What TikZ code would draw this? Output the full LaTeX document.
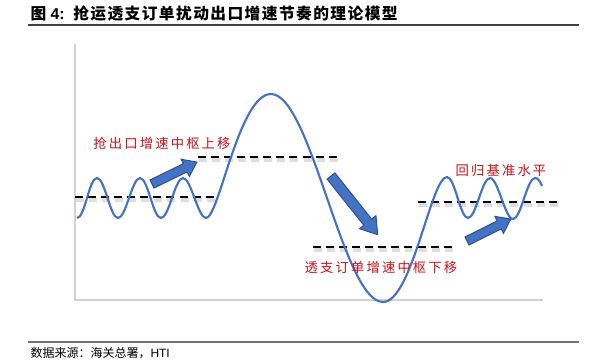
\documentclass[tikz,border=0pt]{standalone}
\usepackage{fontspec}
\setmainfont{Liberation Sans}
\newfontfamily\cjk{Noto Sans CJK SC}
\newfontfamily\cjktitle[LetterSpace=9]{Noto Sans CJK SC}
\newfontfamily\cjklbl[LetterSpace=16]{Noto Sans CJK SC}

\definecolor{waveblue}{RGB}{68,114,196}
\definecolor{arrowedge}{RGB}{47,82,143}
\definecolor{lblred}{RGB}{200,16,24}

\tikzset{every picture/.style={line width=0.75pt}}
\tikzset{
  wave/.style={draw=waveblue, line width=1.6pt},
  centerline/.style={draw=black, line width=1.5pt, dash pattern={on 6pt off 3.8pt}},
  centershade/.style={draw=black!13, line width=3pt, dash pattern={on 6pt off 3.8pt}},
  blockarrow/.style={fill=waveblue, draw=arrowedge, line width=0.75pt},
  axisline/.style={draw=black!18, line width=1.1pt},
  lbl/.style={inner sep=0.75pt, text=lblred, font=\cjklbl\fontsize{10}{12}\selectfont},
}

\begin{document}
\begin{tikzpicture}[x=0.75pt,y=0.75pt,yscale=-1,xscale=1]
        \useasboundingbox (0,0) rectangle (591,361);

        %Straight Lines [id:title rule]
        \draw [draw=black!75, line width=0.8pt]  (28,25) -- (579,25) ;
        %Straight Lines [id:source rule]
        \draw [draw=black!55, line width=0.8pt]  (28,342) -- (579,342) ;

        %Shape: Axis 2D [id:axes]
        \draw [axisline]  (75,44) -- (75,300) -- (543,300) ;

        %Straight Lines [id:center shadows]
        \draw [centershade]  (76,199.5) -- (215,199.5) ;
        \draw [centershade]  (199,159.5) -- (339,159.5) ;
        \draw [centershade]  (314,249.5) -- (454,249.5) ;
        \draw [centershade]  (419,204.5) -- (559,204.5) ;

        %Straight Lines [id:center lines]
        \draw [centerline]  (75,197) -- (214,197) ;
        \draw [centerline]  (198,157) -- (338,157) ;
        \draw [centerline]  (313,247) -- (453,247) ;
        \draw [centerline]  (418,202) -- (558,202) ;

        %Curve Lines [id:wave]
        \draw [wave]  (77,218) .. controls (85,218) and (89,178) .. (97,178)
          .. controls (105,178) and (110,218) .. (118,218)
          .. controls (126,218) and (132,178) .. (140,178)
          .. controls (148,178) and (153,218) .. (161,218)
          .. controls (169,218) and (175,178) .. (183,178)
          .. controls (191,178) and (198,218) .. (206,218)
          .. controls (219,218) and (239,94) .. (271,94)
          .. controls (311,94) and (343,302) .. (383,302)
          .. controls (412,302) and (431,177) .. (447,177)
          .. controls (455,177) and (460,218) .. (468,218)
          .. controls (476,218) and (482,178) .. (490,178)
          .. controls (498,178) and (505,219) .. (513,219)
          .. controls (521,219) and (527,178) .. (535,178)
          .. controls (538,178) and (540,181) .. (542,186) ;

        %Shape: Right Arrow [id:arrow up]
        \draw [blockarrow, shift={(152,184)}, rotate=-26]  (0,-4.5) -- (37,-4.5) -- (37,-9.5) -- (50,0) -- (37,9.5) -- (37,4.5) -- (0,4.5) -- cycle ;
        %Shape: Right Arrow [id:arrow down]
        \draw [blockarrow, shift={(331,176)}, rotate=51.5]  (0,-5) -- (59,-5) -- (59,-10.5) -- (75,0) -- (59,10.5) -- (59,5) -- (0,5) -- cycle ;
        %Shape: Right Arrow [id:arrow back]
        \draw [blockarrow, shift={(467,241)}, rotate=-26.6]  (0,-4.5) -- (36,-4.5) -- (36,-9.5) -- (49,0) -- (36,9.5) -- (36,4.5) -- (0,4.5) -- cycle ;

        % Text Node
        \draw (29,14) node (title) [anchor=west][inner sep=0.75pt]  {\fontsize{11.8}{14}\selectfont\bfseries{\cjktitle 图} 4:\hspace{6.5pt}{\cjktitle 抢运透支订单扰动出口增速节奏的理论模型}};
        % Text Node
        \draw (162,143) node (lblup) [lbl]  {抢出口增速中枢上移};
        % Text Node
        \draw (381,267) node (lbldown) [lbl]  {透支订单增速中枢下移};
        % Text Node
        \draw (501,170) node (lblback) [lbl]  {回归基准水平};
        % Text Node
        \draw (29,353) node (source) [anchor=west][inner sep=0.75pt]  {\fontsize{9}{11}\selectfont{\cjk 数据来源：海关总署，}HTI};
\end{tikzpicture}
\end{document}
